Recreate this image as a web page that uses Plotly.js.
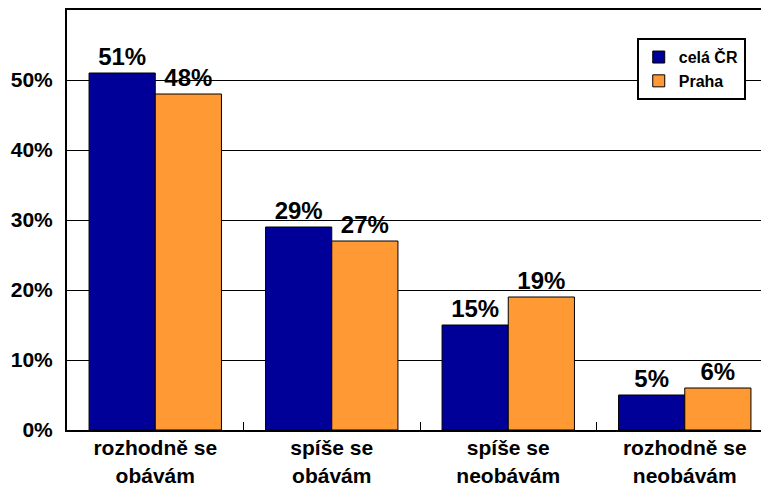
<!DOCTYPE html>
<html>
<head>
<meta charset="utf-8">
<script src="https://cdn.plot.ly/plotly-3.0.1.min.js"></script>
<style>
html,body{margin:0;padding:0;overflow:hidden;background:#fff;}
#chart{width:780px;height:487px;}
</style>
</head>
<body>
<div id="chart"></div>
<script>
var categories = ["rozhodně se<br>obávám", "spíše se<br>obávám", "spíše se<br>neobávám", "rozhodně se<br>neobávám"];
var seriesNames = ["celá ČR", "Praha"];
var celaCR = [51, 29, 15, 5];
var praha = [48, 27, 19, 6];
var yTicks = [0, 10, 20, 30, 40, 50];
var yTickText = ["0%", "10%", "20%", "30%", "40%", "50%"];

var FONT = "Liberation Sans, Arial, sans-serif";

function barTrace(name, vals, color) {
  return {
    type: "bar",
    name: name,
    x: categories,
    y: vals,
    text: vals.map(function(v){ return v + "%"; }),
    textposition: "outside",
    constraintext: "none",
    cliponaxis: false,
    textfont: {family: FONT, size: 24, color: "#000", weight: "bold"},
    marker: {color: color, line: {color: "#000", width: 1}},
    hoverinfo: "none"
  };
}

var data = [
  barTrace(seriesNames[0], celaCR, "#000099"),
  barTrace(seriesNames[1], praha, "#FF9933")
];

var layout = {
  width: 780,
  height: 487,
  margin: {l: 67, r: 7, t: 10, b: 57},
  paper_bgcolor: "#fff",
  plot_bgcolor: "#fff",
  barmode: "group",
  bargap: 0.25,
  bargroupgap: 0,
  showlegend: true,
  legend: {
    x: 0.807, y: 0.933, xanchor: "left", yanchor: "top",
    bgcolor: "#fff", bordercolor: "#000", borderwidth: 2,
    font: {family: FONT, size: 16, color: "#000", weight: "bold"},
    tracegroupgap: 0
  },
  xaxis: {
    type: "category",
    range: [-0.5, 3.5],
    showline: true, linecolor: "#000", linewidth: 2, mirror: true,
    ticks: "inside", tickson: "boundaries", ticklen: 8, tickwidth: 1, tickcolor: "#000",
    showgrid: false, zeroline: false,
    ticklabelstandoff: -2,
    tickfont: {family: FONT, size: 21, color: "#000", weight: "bold"}
  },
  yaxis: {
    range: [0, 60],
    tickvals: yTicks,
    ticktext: yTickText,
    showline: true, linecolor: "#000", linewidth: 2, mirror: true,
    showgrid: true, gridcolor: "#000", gridwidth: 1,
    zeroline: false,
    ticks: "", ticklabelstandoff: 8,
    tickfont: {family: FONT, size: 21, color: "#000", weight: "bold"}
  }
};

Plotly.newPlot("chart", data, layout, {staticPlot: true, displayModeBar: false});
</script>
</body>
</html>
